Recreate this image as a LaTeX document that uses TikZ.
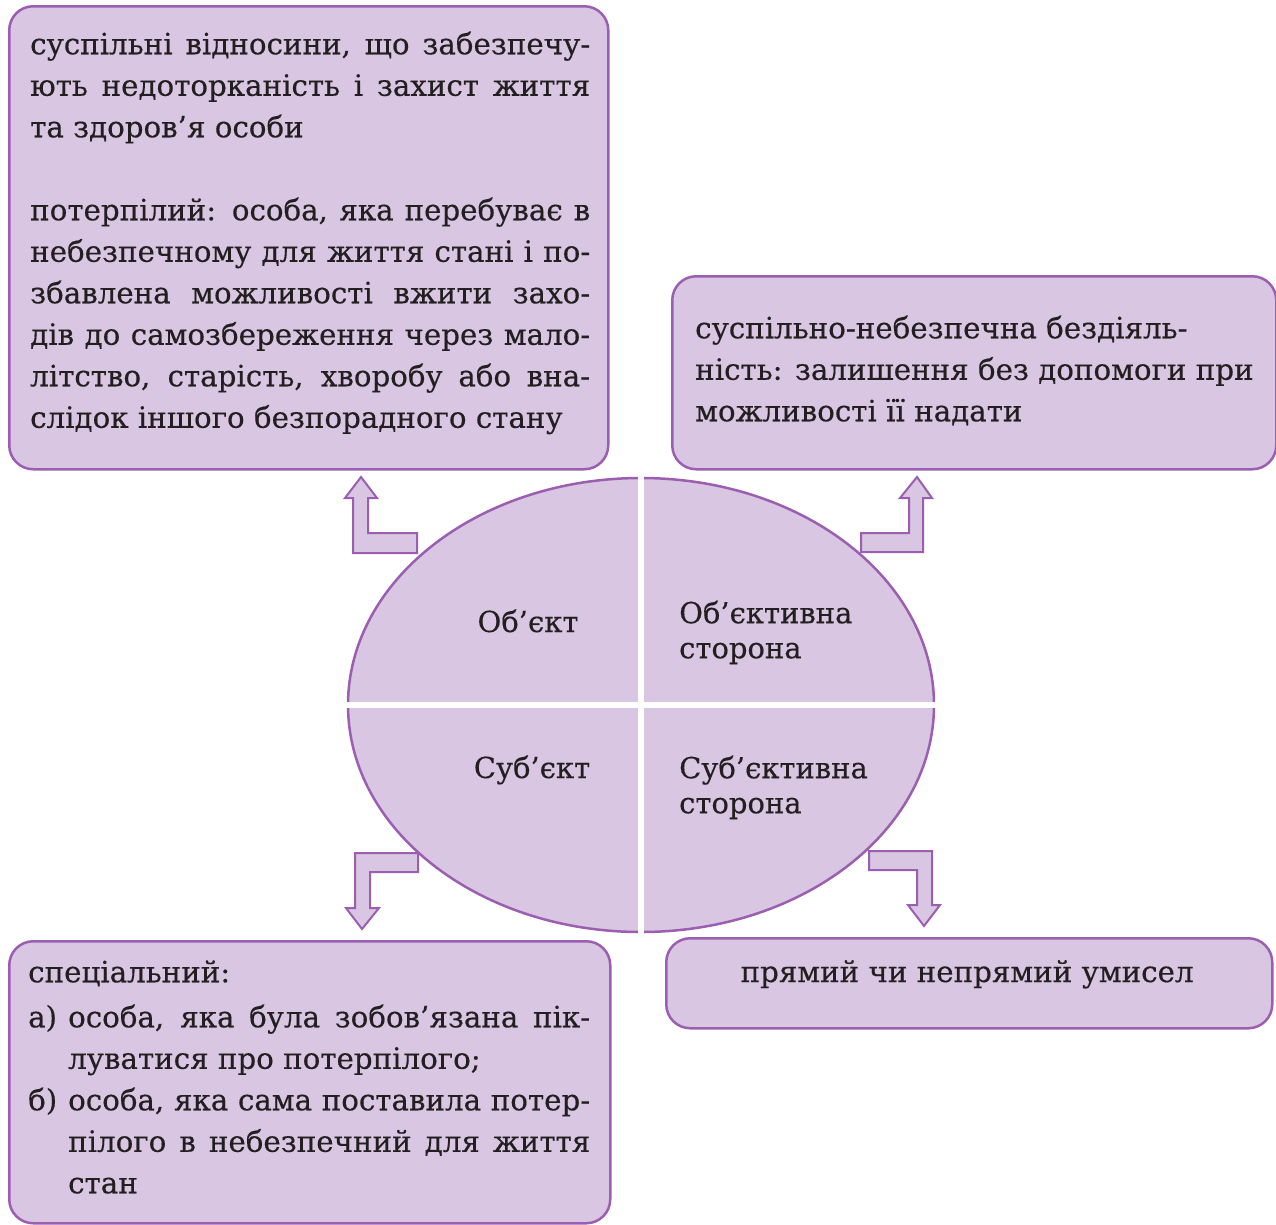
\documentclass[tikz,border=0pt]{standalone}
\usepackage{fontspec}
\setmainfont[FakeBold=0.35]{DejaVu Serif}
\usetikzlibrary{shapes.geometric}
\definecolor{lil}{RGB}{216,198,226}
\definecolor{plum}{RGB}{155,94,176}
\definecolor{ink}{RGB}{35,31,32}
\newcommand{\jl}[2]{\makebox[#1pt][s]{#2}}
\begin{document}
\begin{tikzpicture}[x=1pt,y=-1pt,
  box/.style={draw=plum,fill=lil,line width=2.5pt,rounded corners=24pt,anchor=north west,inner sep=0pt},
  arr/.style={draw=plum,fill=lil,line width=2pt,line join=miter},
  txt/.style={anchor=north west,inner sep=0pt,align=left,text=ink,font=\fontsize{29.3}{41.5}\selectfont},
  etxt/.style={inner sep=0pt,align=left,text=ink,font=\fontsize{29}{35}\selectfont}]
\useasboundingbox (0,0) rectangle (1276,1224);
% boxes
\node[box,minimum width=599pt,minimum height=463pt] (b1) at (8,5) {};
\node[box,minimum width=604pt,minimum height=193pt] (b2) at (671,275) {};
\node[box,minimum width=601pt,minimum height=282pt] (b3) at (8,940) {};
\node[box,minimum width=606pt,minimum height=90pt] (b4) at (665,937) {};
% ellipse
\node[ellipse,draw=plum,fill=lil,line width=2.5pt,minimum width=586pt,minimum height=454pt] (ell) at (641,705) {};
\draw[white,line width=6pt,shorten <=-3pt,shorten >=-3pt] (ell.north) -- (ell.south);
\draw[white,line width=6pt,shorten <=-3pt,shorten >=-3pt] (ell.west) -- (ell.east);
% arrows
\draw[arr] (361,477) -- (377,498) -- (368,498) -- (368,533) -- (417,533) -- (417,553) -- (353,553) -- (353,498) -- (345,498) -- cycle;
\draw[arr] (917,477) -- (932,498) -- (923,498) -- (923,552) -- (861,552) -- (861,533) -- (909,533) -- (909,498) -- (900,498) -- cycle;
\draw[arr] (355,853) -- (418,853) -- (418,872) -- (370,872) -- (370,908) -- (379,908) -- (362,929) -- (346,908) -- (355,908) -- cycle;
\draw[arr] (869,851) -- (932,851) -- (932,905) -- (940,905) -- (924,926) -- (908,905) -- (917,905) -- (917,870) -- (869,870) -- cycle;
% texts
\node[txt] (t1) at (30,25) {\strut\jl{560}{суспільні відносини, що забезпечу-}\\
\strut\jl{560}{ють недоторканість і захист життя}\\
\strut та здоров’я особи\\
\strut\\
\strut\jl{560}{потерпілий: особа, яка перебуває в}\\
\strut\jl{560}{небезпечному для життя стані і по-}\\
\strut\jl{560}{збавлена можливості вжити захо-}\\
\strut\jl{560}{дів до самозбереження через мало-}\\
\strut\jl{560}{літство, старість, хворобу або вна-}\\
\strut слідок іншого безпорадного стану};
\node[txt] (t2) at (695,309) {\strut суспільно-небезпечна бездіяль-\\
\strut ність: залишення без допомоги при\\
\strut можливості її надати};
\node[txt] (t3) at (28,953) {\strut спеціальний:\\[3.5pt]
\strut\makebox[40pt][l]{а)}\jl{522}{особа, яка була зобов’язана пік-}\\
\strut\hspace*{40pt}луватися про потерпілого;\\
\strut\makebox[40pt][l]{б)}\jl{522}{особа, яка сама поставила потер-}\\
\strut\hspace*{40pt}\jl{522}{пілого в небезпечний для життя}\\
\strut\hspace*{40pt}стан};
\node[txt,anchor=base] (t4) at (967,982) {прямий чи непрямий умисел};
\node[etxt,anchor=base] (e1) at (528,632) {Об’єкт};
\node[etxt,anchor=north west] (e2) at (679,598.5) {\strut Об’єктивна\\\strut сторона};
\node[etxt,anchor=base] (e3) at (532,778) {Суб’єкт};
\node[etxt,anchor=north west] (e4) at (679,753.5) {\strut Суб’єктивна\\\strut сторона};
\end{tikzpicture}
\end{document}
